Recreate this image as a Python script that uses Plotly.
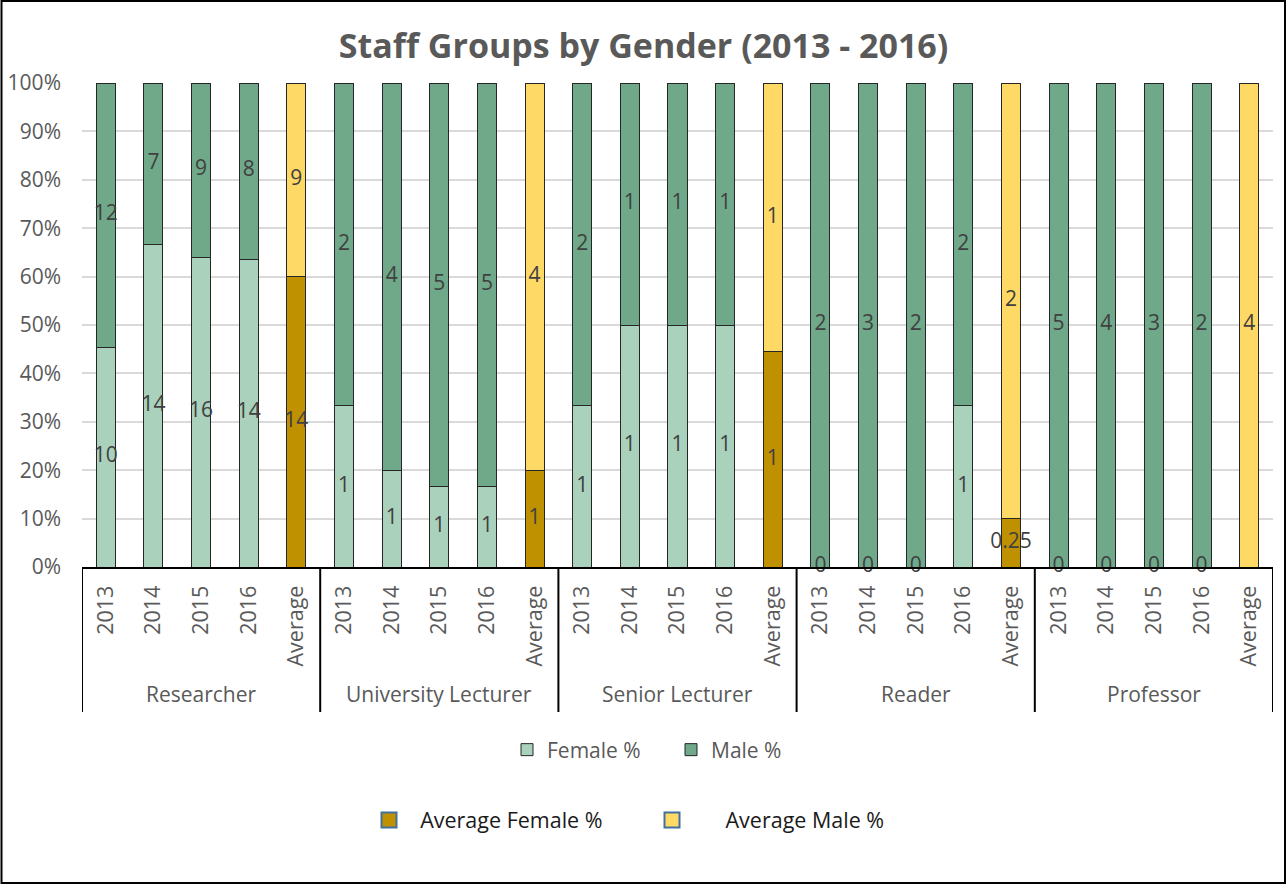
import plotly.graph_objects as go

# ---------------- data ----------------
groups = ["Researcher", "University Lecturer", "Senior Lecturer", "Reader", "Professor"]
periods = ["2013", "2014", "2015", "2016", "Average"]

female_counts = [10, 14, 16, 14, 13.5,
                 1, 1, 1, 1, 1,
                 1, 1, 1, 1, 1,
                 0, 0, 0, 1, 0.25,
                 0, 0, 0, 0, 0]
male_counts = [12, 7, 9, 8, 9,
               2, 4, 5, 5, 4,
               2, 1, 1, 1, 1.25,
               2, 3, 2, 2, 2.25,
               5, 4, 3, 2, 3.5]
female_labels = ["10", "14", "16", "14", "14",
                 "1", "1", "1", "1", "1",
                 "1", "1", "1", "1", "1",
                 "0", "0", "0", "1", "0.25",
                 "0", "0", "0", "0", ""]
male_labels = ["12", "7", "9", "8", "9",
               "2", "4", "5", "5", "4",
               "2", "1", "1", "1", "1",
               "2", "3", "2", "2", "2",
               "5", "4", "3", "2", "4"]

# ---------------- styling ----------------
C_FEMALE = "#A9D1BC"
C_MALE = "#6FA98A"
C_AVG_F = "#BF9000"
C_AVG_M = "#FFD966"
EDGE = "#262626"
GRAY = "#595959"
FONT = "Open Sans"
NB = "\u00a0"

# plot area in pixels
W, H = 1287, 885
L, R, T, B = 82, 14, 83, 318
PW, PH = W - L - R, H - T - B

def px_x(p):
    return (p - L) / PW

def px_y(p):
    return (H - B - p) / PH

n = len(groups) * len(periods)
pos = list(range(n))
tot = [f + m for f, m in zip(female_counts, male_counts)]
f_pct = [f / t for f, t in zip(female_counts, tot)]
m_pct = [m / t for m, t in zip(male_counts, tot)]
is_avg = [periods[i % len(periods)] == "Average" for i in pos]
ticktext = [periods[i % len(periods)] for i in pos]

yr = [i for i in pos if not is_avg[i]]
av = [i for i in pos if is_avg[i]]

fig = go.Figure()
bw = 0.4
fig.add_trace(go.Bar(x=yr, y=[f_pct[i] for i in yr], name="Female %", width=bw,
                     marker=dict(color=C_FEMALE, line=dict(color=EDGE, width=1)),
                     legend="legend"))
fig.add_trace(go.Bar(x=yr, y=[m_pct[i] for i in yr], name="Male %", width=bw,
                     marker=dict(color=C_MALE, line=dict(color=EDGE, width=1)),
                     legend="legend"))
fig.add_trace(go.Bar(x=av, y=[f_pct[i] for i in av], name="Average Female %", width=bw,
                     marker=dict(color=C_AVG_F, line=dict(color=EDGE, width=1)),
                     showlegend=False))
fig.add_trace(go.Bar(x=av, y=[m_pct[i] for i in av], name="Average Male %", width=bw,
                     marker=dict(color=C_AVG_M, line=dict(color=EDGE, width=1)),
                     showlegend=False))

# legend-only entries for the averages (blue outlined swatches)
fig.add_trace(go.Scatter(x=[None], y=[None], mode="markers",
                         name=NB * 2 + "Average Female %",
                         marker=dict(symbol="square", size=15, color=C_AVG_F,
                                     line=dict(color="#41719C", width=2)),
                         legend="legend2"))
fig.add_trace(go.Scatter(x=[None], y=[None], mode="markers",
                         name=NB * 6 + "Average Male %",
                         marker=dict(symbol="square", size=15, color=C_AVG_M,
                                     line=dict(color="#41719C", width=2)),
                         legend="legend2"))

# data labels at segment centres
LBL = dict(family=FONT, size=21, color="#404040")
fig.add_trace(go.Scatter(x=pos, y=[p / 2 for p in f_pct], mode="text", text=female_labels,
                         textposition="middle center", showlegend=False, cliponaxis=False,
                         textfont=LBL, hoverinfo="skip"))
fig.add_trace(go.Scatter(x=pos, y=[f + m / 2 for f, m in zip(f_pct, m_pct)], mode="text",
                         text=male_labels, textposition="middle center", showlegend=False,
                         cliponaxis=False, textfont=LBL, hoverinfo="skip"))

shapes = []
# group dividers below the axis
ngp = len(periods)
for k in range(len(groups) + 1):
    xb = k * ngp - 0.5
    shapes.append(dict(type="line", xref="x", yref="paper", x0=xb, x1=xb,
                       y0=0, y1=px_y(712), line=dict(color="black", width=2)))
# outer border of the chart
shapes.append(dict(type="rect", xref="paper", yref="paper",
                   x0=px_x(1.5), x1=px_x(1285), y0=px_y(883), y1=px_y(1),
                   line=dict(color="black", width=2)))

annotations = []
for k, g in enumerate(groups):
    annotations.append(dict(x=k * ngp + (ngp - 1) / 2, y=px_y(694), xref="x", yref="paper",
                            text=g, showarrow=False, yanchor="middle",
                            font=dict(family=FONT, size=21, color=GRAY)))

fig.update_layout(
    width=W, height=H,
    margin=dict(l=L, r=R, t=T, b=B, autoexpand=False),
    paper_bgcolor="white", plot_bgcolor="white",
    barmode="stack",
    title=dict(text="<b>Staff Groups by Gender (2013 - 2016)</b>", x=0.5, xanchor="center",
               y=1 - 46 / H, yanchor="middle",
               font=dict(family=FONT, size=34, color=GRAY)),
    font=dict(family=FONT, color=GRAY),
    xaxis=dict(range=[-0.5, n - 0.5], tickmode="array", tickvals=pos, ticktext=ticktext,
               tickangle=-90, showline=True, linecolor="black", linewidth=2,
               showgrid=False, zeroline=False, ticks="", ticklabelstandoff=8,
               automargin=False,
               tickfont=dict(family=FONT, size=21.5, color=GRAY)),
    yaxis=dict(range=[0, 1], tickformat=".0%", dtick=0.1, showgrid=True,
               gridcolor="#D9D9D9", gridwidth=2, zeroline=False, showline=False,
               ticks="", ticklabelstandoff=20, automargin=False,
               tickfont=dict(family=FONT, size=21, color=GRAY)),
    legend=dict(orientation="h", x=px_x(507), xanchor="left", y=px_y(750), yanchor="middle",
                font=dict(family=FONT, size=21, color=GRAY), bgcolor="rgba(0,0,0,0)",
                entrywidth=119, entrywidthmode="pixels", traceorder="normal"),
    legend2=dict(orientation="h", x=px_x(369), xanchor="left", y=px_y(820), yanchor="middle",
                 font=dict(family=FONT, size=21.5, color="#1a1a1a"), bgcolor="rgba(0,0,0,0)",
                 entrywidth=238, entrywidthmode="pixels", traceorder="normal"),
    shapes=shapes,
    annotations=annotations,
    showlegend=True,
)

fig.write_html("out.html", config={"displayModeBar": False},
               post_script="document.body.style.margin='0';")
